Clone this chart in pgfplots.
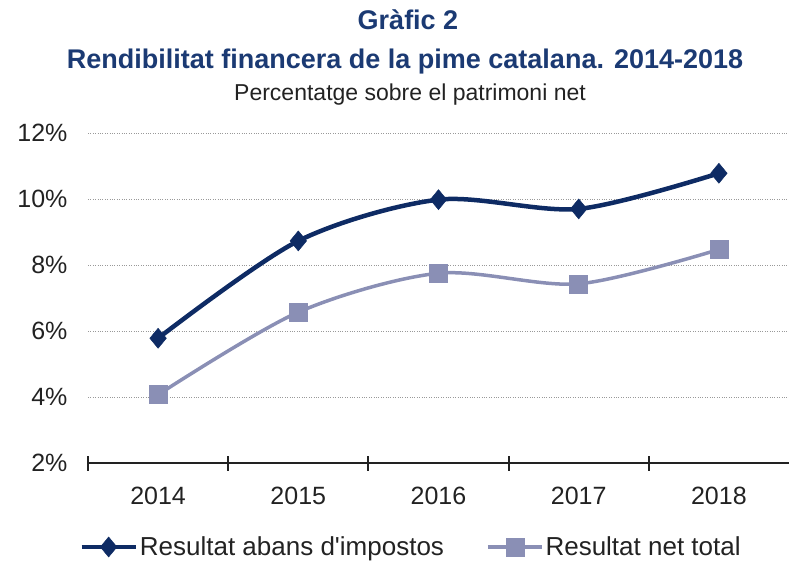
\documentclass[border=0pt]{standalone}
\usepackage{pgfplots}
\pgfplotsset{compat=1.18}
\usepackage{fontspec}
\setmainfont{Liberation Sans}
\definecolor{titleblue}{HTML}{1B3A73}
\definecolor{darkser}{HTML}{0E2B64}
\definecolor{lightser}{HTML}{8A8FB5}
\definecolor{txt}{HTML}{222222}
\begin{document}
\begin{tikzpicture}
\path[use as bounding box] (0pt,0pt) rectangle (789pt,560pt);
\node[anchor=base, text=titleblue, font=\fontsize{27}{32}\selectfont\bfseries] at (408pt,530pt) {Gràfic 2};
\node[anchor=base, text=titleblue, font=\fontsize{27}{32}\selectfont\bfseries] at (405pt,491pt) {Rendibilitat financera de la pime catalana. 2014-2018};
\node[anchor=base, text=txt, font=\fontsize{23}{28}\selectfont] at (410pt,459pt) {Percentatge sobre el patrimoni net};
\begin{axis}[
  at={(88pt,97pt)}, anchor=south west,
  scale only axis, width=701pt, height=330pt,
  xmin=-0.5, xmax=4.5, ymin=2, ymax=12,
  axis x line*=bottom, axis y line*=left,
  y axis line style={draw=none},
  x axis line style={line width=2.2pt, draw=txt, -},
  xtick={0,1,2,3,4}, xticklabels={2014,2015,2016,2017,2018},
  xtick style={draw=none},
  extra x ticks={-0.5,0.5,1.5,2.5,3.5},
  extra x tick labels={},
  extra x tick style={xtick style={draw=txt, line width=2pt}, major tick length=15pt, tick align=center, grid=none},
  ytick={2,4,6,8,10,12},
  ytick style={draw=none},
  ymajorgrids,
  grid style={dotted, draw=gray!80, line width=0.9pt},
  yticklabel={\pgfmathprintnumber{\tick}\%},
  /pgf/number format/assume math mode=true,
  ticklabel style={font=\fontsize{25}{30}\selectfont, text=txt},
  yticklabel style={anchor=east, xshift=-17pt},
  xticklabel style={anchor=base, yshift=-41pt},
  legend style={at={(0.4608,-0.2545)}, anchor=center, draw=none, fill=none,
    legend columns=2, font=\fontsize{26}{30}\selectfont, text=txt,
    /tikz/every even column/.append style={column sep=40pt},
    nodes={inner sep=2pt}},
  legend image code/.code={\draw[mark repeat=2,mark phase=2,#1] plot coordinates {(0pt,0pt) (27pt,0pt) (54pt,0pt)};},
  clip=false,
]
\addplot[darkser, line width=4.5pt, smooth, mark=diamond*, mark size=10pt, mark options={solid, line width=0.5pt, fill=darkser, xscale=1.1}]
  coordinates {(0,5.78) (1,8.73) (2,9.98) (3,9.70) (4,10.78)};
\addlegendentry{Resultat abans d\textquotesingle impostos}
\addplot[lightser, line width=3.5pt, smooth, mark=square*, mark size=9pt, mark options={solid, line width=0.5pt, fill=lightser}]
  coordinates {(0,4.07) (1,6.57) (2,7.75) (3,7.43) (4,8.47)};
\addlegendentry{Resultat net total}
\end{axis}
\end{tikzpicture}
\end{document}
